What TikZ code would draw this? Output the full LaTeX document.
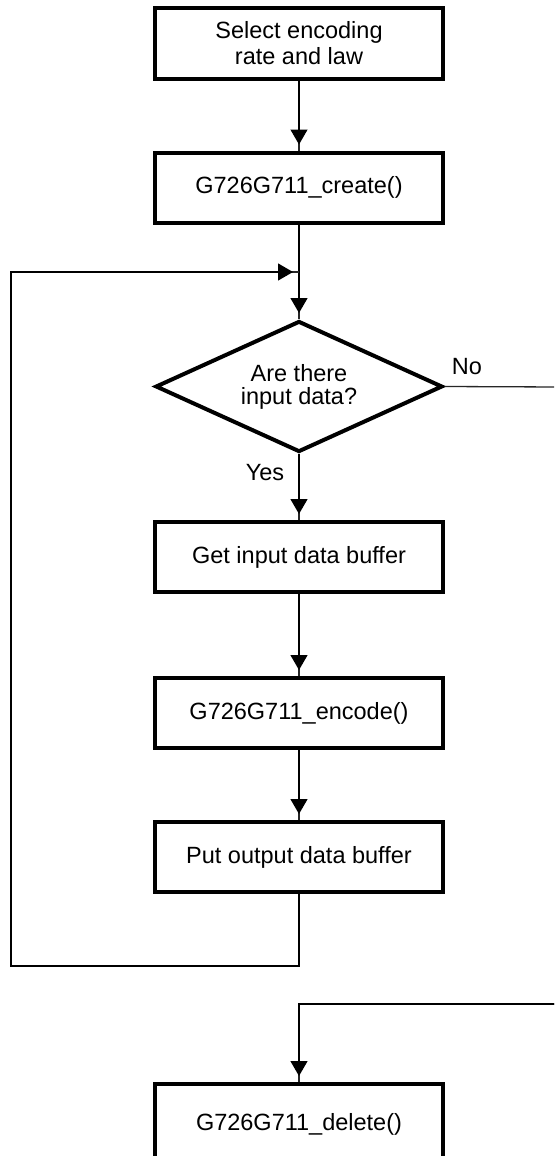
\documentclass[tikz,border=0pt]{standalone}
\usepackage{fontspec}
\setmainfont{Liberation Sans}
\usetikzlibrary{shapes.geometric,arrows.meta}
\tikzset{
  procbox/.style={draw=black, line width=4pt, rectangle, minimum width=288pt, minimum height=70pt,
    inner sep=0pt, align=center, font=\fontsize{23.5}{26}\selectfont},
  decision/.style={draw=black, line width=4pt, diamond, aspect=2.2, minimum width=287pt, minimum height=131pt,
    inner sep=0pt, align=center, font=\fontsize{23.5}{23}\selectfont},
  flowline/.style={draw=black!85, line width=1.3pt},
  arrowline/.style={flowline, postaction={draw=black, -{Triangle[length=15pt,width=17pt]}, shorten >=6pt}},
  lbl/.style={inner sep=0pt, font=\fontsize{23.5}{26}\selectfont}
}
\begin{document}
\begin{tikzpicture}[x=1pt,y=-1pt]
\useasboundingbox (0,0) rectangle (554,1156);
\clip (0,0) rectangle (554,1156);
\fill[white] (0,0) rectangle (554,1156);

\node[procbox] (sel) at (299,43.5) {Select encoding\\rate and law};
\node[procbox] (create) at (299,187.5) {G726G711\_create()};
\node[decision] (dia) at (299,386.5) {Are there\\input data?};
\node[procbox] (get) at (299,557) {Get input data buffer};
\node[procbox] (enc) at (299,713) {G726G711\_encode()};
\node[procbox] (put) at (299,857) {Put output data buffer};
\node[procbox, minimum height=80pt] (del) at (299,1124) {\raisebox{5pt}{G726G711\_delete()}};

\node[lbl] (no) at (467,367) {No};
\node[lbl] (yes) at (265,473) {Yes};

\coordinate (join) at (299,272);
\coordinate (loopB) at (11,966);
\coordinate (loopT) at (11,272);
\coordinate (noEnd) at (560,387);
\coordinate (retStart) at (560,1004);

\draw[arrowline] (sel.south) -- (create.north);
\draw[arrowline] (create.south) -- (dia.north);
\draw[arrowline] (dia.south) -- (get.north);
\draw[arrowline] (get.south) -- (enc.north);
\draw[arrowline] (enc.south) -- (put.north);
\draw[arrowline] (put.south) |- (loopB) -- (loopT) -- (join);
\draw[flowline] (dia.east) -- (noEnd);
\draw[arrowline] (retStart) -| (del.north);
\end{tikzpicture}
\end{document}
